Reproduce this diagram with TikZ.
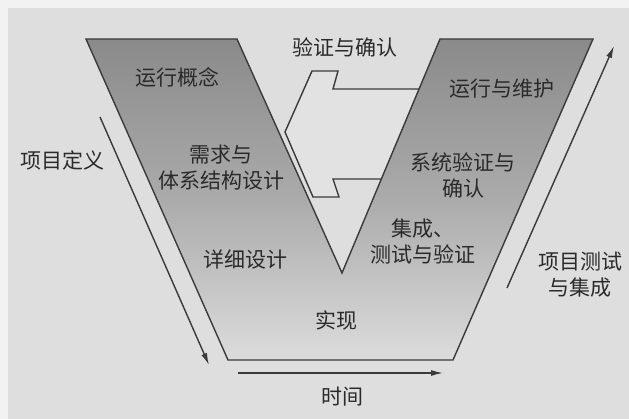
\documentclass[tikz,border=0pt]{standalone}
\usepackage{fontspec}
\setmainfont{Noto Sans CJK SC}
\usetikzlibrary{arrows.meta}
\definecolor{bgout}{HTML}{F2F2F2}
\definecolor{bg}{HTML}{DEDEDE}
\definecolor{edge}{HTML}{3A3A3A}
\definecolor{txt}{HTML}{2A2A2A}
\definecolor{vtop}{HTML}{8A8A8A}
\definecolor{vmid}{HTML}{ABABAB}
\definecolor{vbot}{HTML}{DCDCDC}
\definecolor{arrfill}{HTML}{E2E2E2}
\begin{document}
\begin{tikzpicture}[x=1pt,y=-1pt,
  lbl/.style={font=\fontsize{21}{26}\selectfont, text=txt, align=center, inner sep=0pt},
  outline/.style={draw=edge, line width=1.4pt, line join=miter},
  flow/.style={draw=edge, line width=1.4pt, -{Latex[length=12pt,width=6pt]}}]
\useasboundingbox (0,0) rectangle (629,419);
\fill[bgout] (0,0) rectangle (629,419);
\fill[bg] (8,8) rectangle (629,419);
% middle double-edged arrow (verification & validation)
\path[outline, fill=arrfill] (312,71) -- (338,71) -- (333,89) -- (430,89) -- (430,179)
  -- (333,179) -- (339,197) -- (313,197) -- (285,132) -- cycle;
% the V
\path[outline, top color=vtop, bottom color=vbot, middle color=vmid]
  (86,39) -- (237,39) -- (342,273) -- (440,39) -- (593,39) -- (453,360) -- (228,360) -- cycle;
% side arrows
\coordinate (pdA) at (100,117);
\coordinate (pdB) at (209,365);
\coordinate (ptA) at (507,288);
\coordinate (ptB) at (614,46);
\coordinate (tA) at (238,373);
\coordinate (tB) at (443,373);
\draw[flow] (pdA) -- (pdB);
\draw[flow] (ptA) -- (ptB);
\draw[flow] (tA) -- (tB);
% labels
\node[lbl] (verif) at (345,47) {验证与确认};
\node[lbl] (opcon) at (177,77) {运行概念};
\node[lbl] (req) at (221,168) {需求与\\体系结构设计};
\node[lbl] (detail) at (245,260) {详细设计};
\node[lbl] (impl) at (336,320) {实现};
\node[lbl] (integ) at (423,241) {集成、\\测试与验证};
\node[lbl] (sysval) at (463,175) {系统验证与\\确认};
\node[lbl] (opm) at (502,89) {运行与维护};
\node[lbl] (projdef) at (62,160) {项目定义};
\node[lbl] (projtest) at (580,275) {项目测试\\与集成};
\node[lbl] (time) at (342,397) {时间};
\end{tikzpicture}
\end{document}
